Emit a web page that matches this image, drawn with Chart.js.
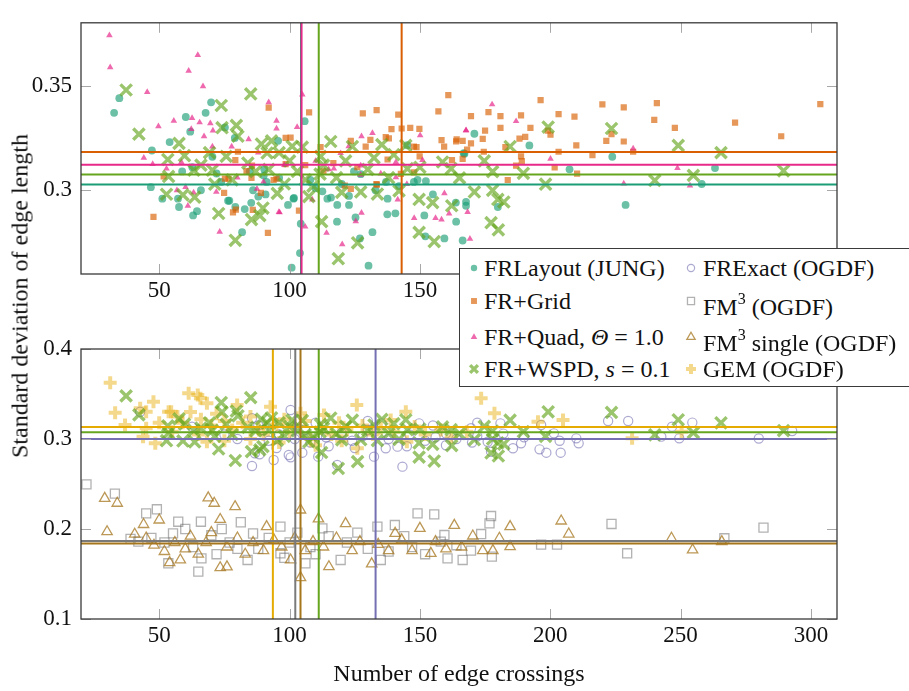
<!DOCTYPE html>
<html>
<head>
<meta charset="utf-8">
<script src="https://cdn.jsdelivr.net/npm/chart.js@4"></script>
<style>
  body { margin: 0; width: 909px; height: 691px; position: relative; overflow: hidden; background: #fff;
         font-family: 'Liberation Serif', 'Times New Roman', Times, 'DejaVu Serif', serif; color: #111; }
  canvas { position: absolute; left: 0; }
  #yTitle { position: absolute; left: 20px; top: 296px; font-size: 24px; white-space: nowrap;
            transform: translate(-50%, -50%) rotate(-90deg); }
  #legend { position: absolute; left: 459px; top: 248px; width: 470px; height: 137px;
            background: #fff; border: 1.3px solid #3a3a3a; }
  .item { position: absolute; height: 30px; line-height: 30px; font-size: 24px; white-space: nowrap; }
  .item sup { font-size: 16px; position: relative; top: -2px; }
  .icon { position: absolute; }
</style>
</head>
<body>
<canvas id="topChart" width="909" height="320" style="top:0"></canvas>
<canvas id="bottomChart" width="909" height="371" style="top:320px"></canvas>
<div id="yTitle">Standard deviation of edge length</div>
<div id="legend"></div>
<script>
// axes
const xRange = [20, 310];
const xTicks = [50, 100, 150, 200, 250, 300];
const topYRange = [0.26, 0.38];
const topYTicks = [0.3, 0.35];
const bottomYRange = [0.1, 0.4];
const bottomYTicks = [0.1, 0.2, 0.3, 0.4];

const seriesNames = ['FRLayout (JUNG)', 'FR+Grid', 'FR+Quad, Θ = 1.0', 'FR+WSPD, s = 0.1',
                     'FRExact (OGDF)', 'FM3 (OGDF)', 'FM3 single (OGDF)', 'GEM (OGDF)'];
const legendLabels = ['FRLayout (JUNG)', 'FR+Grid', 'FR+Quad, <i>Θ</i> = 1.0', 'FR+WSPD, <i>s</i> = 0.1',
                      'FRExact (OGDF)', 'FM<sup>3</sup> (OGDF)', 'FM<sup>3</sup> single (OGDF)', 'GEM (OGDF)'];

// [crossings, std dev of edge length]
const frLayout = [[32.7,0.337],[34.7,0.344],[69.9,0.342],[67.8,0.337],[60.2,0.335],[61.9,0.328],[54,0.323],
  [47.2,0.319],[46.8,0.3015],[51.2,0.296],[57.2,0.296],[57.6,0.292],[58.8,0.309],[63,0.288],[64.5,0.290],
  [70.4,0.316],[72,0.308],[76.9,0.295],[81.8,0.280],[85.3,0.294],[79.2,0.292],[90.8,0.298],[90.1,0.307],
  [99.4,0.293],[101.5,0.296],[104.3,0.284],[105.8,0.333],[100.8,0.263],[104,0.270],[112.6,0.2995],
  [115.9,0.2965],[118.2,0.285],[118.3,0.293],[122.8,0.293],[125.3,0.287],[127,0.277],[130.3,0.264],
  [131.8,0.280],[137.5,0.2885],[140.6,0.289],[147.7,0.304],[151.7,0.288],[152.1,0.278],[159.4,0.277],
  [163.9,0.285],[101.7,0.2963],[114.5,0.296],[122.8,0.2973],[137.6,0.296],[137,0.304],[124.7,0.309],
  [127.3,0.3077],[145.2,0.3215],[166.8,0.3177],[167.7,0.2945],[170.9,0.327],[167.1,0.3174],[167.7,0.2926],
  [166.4,0.276],[179.9,0.292],[192,0.3214],[207.4,0.310],[223.8,0.316],[228.9,0.293],[263.2,0.3106],
  [258.1,0.303],[62.7,0.311],[79,0.325],[75.2,0.330],[90.3,0.310],[91.2,0.304],[76.4,0.295],[82.8,0.291],
  [95.6,0.3236],[84.7,0.309],[73.8,0.304],[149.1,0.305],[152.3,0.3044],[163.8,0.2941],[108,0.305],
  [110,0.301],[96,0.306],[86,0.300],[120,0.303],[133,0.300],[142,0.302],[155,0.298],[66,0.300],[88,0.297]];

const frGrid = [[47.8,0.2873],[91.7,0.2796],[92,0.3395],[107.5,0.3372],[128.1,0.3367],[133.4,0.3383],
  [141.7,0.3361],[139.1,0.3292],[143,0.3295],[146.3,0.3298],[149.8,0.3293],[157.1,0.3377],[160.9,0.3454],
  [163.9,0.3234],[98.5,0.325],[100.4,0.3252],[111.9,0.3206],[129.2,0.3209],[131,0.3241],[138.1,0.3248],
  [147.7,0.3209],[103.6,0.2903],[89,0.2988],[121.2,0.3022],[133.5,0.3027],[98.5,0.3125],[93.9,0.3049],
  [85.9,0.2906],[79.4,0.2907],[76.6,0.3055],[51.7,0.3066],[196.3,0.3431],[220,0.341],[228.2,0.3396],
  [240.9,0.3416],[239.9,0.3336],[169.6,0.3354],[176.3,0.3373],[180.9,0.3354],[188.8,0.3358],[203.2,0.3364],
  [209.3,0.3352],[180.9,0.3298],[175,0.3285],[174.1,0.3245],[169.6,0.3224],[192.4,0.3298],[199.1,0.3285],
  [200.1,0.3266],[190.4,0.3255],[188.2,0.3247],[182.8,0.3206],[174.5,0.3184],[168.1,0.3194],[188.8,0.3162],
  [189.1,0.3139],[186.9,0.3118],[183.7,0.3049],[201.7,0.3109],[203.2,0.3184],[210,0.3214],[216.2,0.3168],
  [210.3,0.308],[221.5,0.3236],[228.2,0.3233],[223.5,0.3268],[231.8,0.3184],[166.4,0.3236],[166.4,0.315],
  [247.8,0.3298],[270.9,0.3323],[288.6,0.3258],[303.6,0.3412],[123.5,0.3236],[136.9,0.3254],[158.3,0.3239],
  [159.3,0.3209],[164.1,0.3243],[148.7,0.3206],[149.9,0.3162],[162.3,0.3144],[147.8,0.3085],[142.7,0.3078],
  [133.3,0.3029],[123.5,0.3007],[137.6,0.3147],[79.2,0.3144],[80.2,0.3184],[85.6,0.3118],[83.5,0.3091],
  [75.2,0.3056],[85.4,0.3059],[95,0.3056],[74.9,0.2988],[78.3,0.2894],[116.8,0.313],[126,0.311],
  [106,0.312],[113,0.309]];

const frQuad = [[30.9,0.374],[31.2,0.3587],[64.8,0.3646],[61.3,0.3571],[66.8,0.3497],[45.4,0.3469],
  [92,0.342],[49.7,0.3305],[55.6,0.3332],[62.6,0.3345],[65.5,0.3324],[69.6,0.332],[67.2,0.3258],
  [62.3,0.3292],[70.6,0.3285],[95,0.3332],[95,0.3295],[44.1,0.3155],[47.5,0.3125],[70.4,0.3209],
  [84.3,0.3243],[77.8,0.3209],[71.9,0.2992],[60.1,0.3015],[63.2,0.2989],[56.8,0.300],[61,0.2926],
  [73.2,0.2801],[95.9,0.2896],[52.8,0.3103],[58.5,0.3135],[87.5,0.3007],[104.9,0.3457],[102.9,0.3302],
  [131.8,0.3273],[127.6,0.3258],[150.1,0.3262],[167.7,0.3285],[119.6,0.3177],[122.7,0.321],[117,0.3103],
  [127.3,0.3118],[140.8,0.3135],[151,0.3144],[140.8,0.3062],[127.3,0.3074],[108.7,0.2956],[141.5,0.2956],
  [96.2,0.2894],[106,0.2826],[114.2,0.2796],[120.2,0.2742],[125.4,0.2852],[127.6,0.2892],[147.8,0.2867],
  [156,0.2867],[158.3,0.286],[159.4,0.2985],[161.2,0.2889],[168.3,0.2896],[177.7,0.341],[186.9,0.333],
  [167.7,0.3287],[200.1,0.315],[231.8,0.3199],[228.2,0.3032],[169.2,0.2768],[248.8,0.3106],[253.6,0.3022],
  [88,0.318],[98,0.312],[110,0.314],[80,0.306],[90,0.304],[135,0.308],[145,0.303],[115,0.310]];

const frWspd = [[37.3,0.3479],[42.2,0.3268],[73.8,0.3405],[85.1,0.346],[74.1,0.3299],[79.6,0.331],
  [80.2,0.3258],[57.6,0.3224],[53.3,0.3147],[59.7,0.3165],[53.6,0.3066],[63.3,0.3096],[69.3,0.318],
  [75.7,0.3162],[70.4,0.3096],[71.3,0.3029],[52.8,0.2981],[59.1,0.2978],[63.6,0.2967],[72.8,0.2889],
  [79.2,0.2761],[85.4,0.286],[88.6,0.2879],[89.8,0.2915],[89.2,0.3221],[93.1,0.3236],[91.4,0.3178],
  [115.8,0.3233],[124.1,0.3209],[135.4,0.3218],[132.4,0.3155],[144.6,0.3214],[104.9,0.3206],[111.9,0.3162],
  [121.5,0.314],[158.7,0.3135],[162,0.3103],[165.2,0.3059],[145.2,0.3103],[95.3,0.2985],[107.4,0.297],
  [127.3,0.2992],[133.7,0.2982],[142,0.2997],[149.7,0.2956],[154.9,0.2941],[162.2,0.2926],[149.7,0.2799],
  [155.5,0.2755],[126.1,0.2749],[118.7,0.2673],[112.3,0.285],[111.7,0.3077],[174.7,0.314],[177.9,0.3089],
  [170.9,0.2992],[177.9,0.300],[179.9,0.2956],[182.2,0.2944],[177.3,0.2845],[180.1,0.2811],[184.6,0.3209],
  [189.7,0.3081],[198.2,0.3029],[199.2,0.3302],[223.5,0.3295],[240.1,0.3047],[249.1,0.3214],[254.9,0.3071],
  [265.5,0.318],[289.5,0.3093],[96,0.318],[100,0.314],[103,0.309],[106,0.305],[109,0.302],[113,0.312],
  [118,0.306],[98,0.303],[92,0.310],[84,0.313],[78,0.305],[66,0.312],[130,0.310],[138,0.306],[150,0.311],
  [140,0.317],[120,0.299],[101,0.321],[87,0.309]];

const frExact = [[42.7,0.3303],[62.6,0.3137],[85.6,0.323],[100.4,0.3322],[86.7,0.2841],[88.5,0.283],
  [93.9,0.2767],[85.6,0.270],[100.4,0.2796],[104.9,0.2848],[111,0.2804],[118.3,0.2711],[132.4,0.2804],
  [143.3,0.2693],[141.4,0.2915],[149.7,0.3174],[99.7,0.2822],[136.9,0.2897],[135.3,0.3174],[169.6,0.3119],
  [180.9,0.3174],[177.3,0.2859],[185.7,0.2897],[188.8,0.2952],[195.9,0.2885],[198.5,0.2848],[204,0.2848],
  [196.5,0.3156],[201.4,0.3063],[203.6,0.2981],[210,0.3007],[210.9,0.2952],[222.2,0.320],[229.9,0.320],
  [242.6,0.3026],[246.7,0.3137],[249.5,0.3007],[254.5,0.3182],[280,0.3005],[292.8,0.3089],
  [75,0.305],[80,0.300],[90,0.310],[92,0.298],[96,0.305],[102,0.300],[106,0.310],[108,0.296],[114,0.302],
  [120,0.307],[124,0.298],[128,0.303],[130,0.310],[138,0.300],[146,0.305],[152,0.298],[156,0.302],
  [160,0.306],[164,0.300],[172,0.303],[176,0.297],[182,0.306],[190,0.302],[95,0.290],[115,0.292],
  [125,0.290],[145,0.292],[160,0.293],[170,0.296],[88,0.315],[110,0.318],[130,0.320],[155,0.315],[172,0.318]];

const fm3 = [[22.1,0.2496],[33,0.2393],[45,0.2174],[49.1,0.2219],[55.3,0.1952],[57.3,0.2081],[66,0.2081],
  [81.3,0.2075],[65,0.1526],[53.5,0.1619],[39,0.189],[83.9,0.1656],[106.1,0.1619],[119.6,0.1656],
  [149.1,0.2174],[155.5,0.2163],[160.6,0.1674],[135,0.1656],[96.5,0.2026],[112.6,0.2007],[133.7,0.2026],
  [140.4,0.2044],[159.4,0.1933],[166.4,0.1656],[177.3,0.2144],[176.7,0.2063],[173.5,0.1944],[169.6,0.1759],
  [177.6,0.1693],[196.5,0.1826],[202.6,0.1826],[223.5,0.2056],[229.5,0.173],[266.8,0.1897],[281.8,0.2015],
  [96.5,0.173],[66.2,0.1674],[42,0.186],[47,0.190],[52,0.185],[60,0.200],[63,0.180],[70,0.193],[74,0.200],
  [77,0.185],[86,0.195],[88,0.178],[92,0.190],[100,0.185],[103,0.196],[108,0.180],[115,0.192],[122,0.185],
  [126,0.196],[130,0.178],[144,0.192],[147,0.180],[152,0.172],[158,0.186],[72,0.172],[80,0.178],[98,0.168],
  [110,0.172],[138,0.175],[164,0.182]];

const fm3Single = [[29.1,0.2341],[33.9,0.2286],[30,0.197],[40.6,0.1942],[44,0.205],[50,0.21],[68.8,0.2346],
  [71.1,0.2286],[79.1,0.2248],[73.4,0.2106],[104.2,0.2211],[111.1,0.2113],[104.2,0.146],[121.5,0.206],
  [150,0.2007],[163.2,0.204],[73.4,0.157],[76,0.158],[115.1,0.1581],[131.5,0.1613],[58.1,0.1656],
  [54,0.1626],[91.2,0.2026],[154.2,0.173],[140.5,0.1952],[100.4,0.1656],[170.3,0.1922],[174.1,0.1759],
  [180.5,0.1897],[184.6,0.2026],[184.6,0.1804],[204.2,0.2089],[207.1,0.1944],[246.5,0.1897],[254.6,0.1767],
  [265.8,0.1859],[45,0.190],[48,0.182],[52,0.175],[56,0.185],[60,0.178],[62,0.192],[65,0.172],[68,0.185],
  [70,0.196],[76,0.180],[80,0.190],[83,0.172],[86,0.185],[90,0.176],[94,0.188],[97,0.180],[102,0.190],
  [106,0.176],[109,0.186],[113,0.180],[118,0.190],[124,0.176],[127,0.186],[134,0.183],[138,0.176],
  [143,0.188],[147,0.176],[156,0.186],[160,0.178],[166,0.180],[178,0.176]];

const gem = [[31.2,0.3626],[33.1,0.3292],[36.9,0.3156],[42.7,0.3341],[47.8,0.3415],[43.8,0.3026],
  [48.5,0.2952],[53.6,0.3303],[61.3,0.3508],[65.8,0.3452],[68.3,0.297],[79.9,0.3378],[92.7,0.3359],
  [104.2,0.3285],[125.8,0.3378],[144.6,0.3303],[45,0.3303],[45,0.3119],[54.6,0.3303],[64.8,0.349],
  [68.3,0.3397],[138.8,0.3211],[113.2,0.3267],[126,0.2897],[173.5,0.3452],[178.6,0.3285],[195.3,0.3193],
  [204.9,0.3211],[231.4,0.3007],[250.4,0.3081],[57,0.325],[59,0.318],[62,0.330],[66,0.322],[70,0.315],
  [72,0.328],[75,0.320],[78,0.310],[82,0.318],[85,0.325],[88,0.312],[90,0.305],[95,0.316],[98,0.322],
  [100,0.308],[102,0.315],[106,0.320],[108,0.300],[112,0.312],[116,0.305],[119,0.318],[122,0.310],
  [128,0.315],[132,0.305],[135,0.312],[140,0.308],[148,0.314],[152,0.305],[158,0.310],[162,0.302],
  [50,0.318],[55,0.308],[65,0.305],[75,0.298],[85,0.300],[96,0.296],[110,0.293],[120,0.298],[145,0.297],
  [168,0.308]];

// mean crossings (vertical line) and mean std dev (horizontal line) per series
const meanCrossings = [104.4, 143, 104.6, 111.2, 133, 102.2, 104.2, 93.6];
const meanStdDev = [0.3028, 0.3183, 0.3122, 0.3075, 0.300, 0.1867, 0.184, 0.3133];

// marker looks, same order as seriesNames
const styles = [
  { rgb: '27,158,119', line: '#1b9e77', shape: 'circle', r: 3.9, fill: true, a: 0.65, bw: 0, lr: 3.2 },
  { rgb: '217,95,2', line: '#d95f02', shape: 'rect', r: 4.4, fill: true, a: 0.65, bw: 0, lr: 4.2 },
  { rgb: '231,41,138', line: '#e7298a', shape: 'triangle', r: 3.8, fill: true, a: 0.7, bw: 0, lr: 3.8 },
  { rgb: '102,166,30', line: '#66a61e', shape: 'crossRot', r: 8, fill: false, a: 0.65, bw: 3.4, lr: 5.5 },
  { rgb: '117,112,179', line: '#7570b3', shape: 'circle', r: 4.6, fill: false, a: 0.6, bw: 1.2, lr: 3.6 },
  { rgb: '102,102,102', line: '#7a7a7a', shape: 'rect', r: 6.4, fill: false, a: 0.5, bw: 1.3, lr: 5 },
  { rgb: '166,118,29', line: '#a6761d', shape: 'triangle', r: 6, fill: false, a: 0.75, bw: 1.3, lr: 4.8 },
  { rgb: '230,171,2', line: '#e6ab02', shape: 'cross', r: 6.5, fill: false, a: 0.45, bw: 4, lr: 5 }
];

const fontFamily = "'Liberation Serif', 'Times New Roman', Times, 'DejaVu Serif', serif";
Chart.defaults.font.family = fontFamily;
Chart.defaults.color = '#111';

function scatterSet(i, points, order) {
  const s = styles[i];
  const c = 'rgba(' + s.rgb + ',' + s.a + ')';
  return {
    label: seriesNames[i],
    data: points.map(p => ({ x: p[0], y: p[1] })),
    showLine: false,
    pointStyle: s.shape,
    pointRadius: s.r,
    pointHoverRadius: s.r,
    pointBackgroundColor: s.fill ? c : 'rgba(0,0,0,0)',
    pointBorderColor: c,
    pointBorderWidth: s.bw,
    order: order
  };
}

function meanLines(i, yRange) {
  const base = { showLine: true, pointRadius: 0, borderColor: styles[i].line, borderWidth: 2, fill: false, order: 0 };
  return [
    Object.assign({ data: [{ x: meanCrossings[i], y: yRange[0] }, { x: meanCrossings[i], y: yRange[1] }] }, base),
    Object.assign({ data: [{ x: xRange[0], y: meanStdDev[i] }, { x: xRange[1], y: meanStdDev[i] }] }, base)
  ];
}

// frame round the plot and the little inward tick marks
const frameTicks = {
  id: 'frameTicks',
  afterDraw(chart) {
    const { ctx, chartArea: a, scales: { x, y } } = chart;
    ctx.save();
    ctx.strokeStyle = '#a8a8a8';
    ctx.lineWidth = 1;
    ctx.beginPath();
    x.ticks.forEach(t => {
      const px = Math.round(x.getPixelForValue(t.value)) + 0.5;
      ctx.moveTo(px, a.bottom); ctx.lineTo(px, a.bottom - 10);
      ctx.moveTo(px, a.top); ctx.lineTo(px, a.top + 10);
    });
    y.ticks.forEach(t => {
      const py = Math.round(y.getPixelForValue(t.value)) + 0.5;
      ctx.moveTo(a.left, py); ctx.lineTo(a.left + 10, py);
      ctx.moveTo(a.right, py); ctx.lineTo(a.right - 10, py);
    });
    ctx.stroke();
    ctx.strokeStyle = '#3a3a3a';
    ctx.lineWidth = 1.3;
    ctx.strokeRect(a.left, a.top, a.right - a.left, a.bottom - a.top);
    ctx.restore();
  }
};

function makeOptions(yRange, yTicks, padTop, xHeight, withTitle) {
  return {
    responsive: false,
    animation: false,
    events: [],
    layout: { padding: { top: padTop, right: 72, bottom: 0, left: 0 } },
    plugins: { legend: { display: false }, tooltip: { enabled: false } },
    scales: {
      x: {
        type: 'linear', min: xRange[0], max: xRange[1],
        afterBuildTicks: s => { s.ticks = xTicks.map(v => ({ value: v })); },
        afterFit: s => { s.height = xHeight; },
        grid: { display: false, drawTicks: false },
        border: { display: false },
        ticks: { font: { size: 23 }, padding: 3, maxRotation: 0, autoSkip: false, callback: v => String(v) },
        title: { display: withTitle, text: 'Number of edge crossings', font: { size: 24 }, padding: { top: 0, bottom: 2 } }
      },
      y: {
        type: 'linear', min: yRange[0], max: yRange[1],
        afterBuildTicks: s => { s.ticks = yTicks.map(v => ({ value: v })); },
        afterFit: s => { s.width = 81; },
        grid: { display: false, drawTicks: false },
        border: { display: false },
        ticks: { font: { size: 23 }, padding: 9, autoSkip: false, callback: v => String(v) }
      }
    }
  };
}

new Chart(document.getElementById('topChart'), {
  type: 'scatter',
  data: {
    datasets: [
      ...meanLines(2, topYRange), ...meanLines(3, topYRange), ...meanLines(1, topYRange), ...meanLines(0, topYRange),
      scatterSet(0, frLayout, 9), scatterSet(1, frGrid, 8), scatterSet(2, frQuad, 7), scatterSet(3, frWspd, 6)
    ]
  },
  options: makeOptions(topYRange, topYTicks, 3, 46, false),
  plugins: [frameTicks]
});

new Chart(document.getElementById('bottomChart'), {
  type: 'scatter',
  data: {
    datasets: [
      ...meanLines(4, bottomYRange), ...meanLines(5, bottomYRange), ...meanLines(6, bottomYRange),
      ...meanLines(3, bottomYRange), ...meanLines(7, bottomYRange),
      scatterSet(4, frExact, 9), scatterSet(5, fm3, 8), scatterSet(6, fm3Single, 7),
      scatterSet(7, gem, 6), scatterSet(3, frWspd, 5)
    ]
  },
  options: makeOptions(bottomYRange, bottomYTicks, 29, 72, true),
  plugins: [frameTicks]
});

// shared legend, two columns
const legendRowCenters = [19, 52, 88, 120];
const legendCols = [{ icon: 14, text: 24 }, { icon: 231, text: 243 }];
const legendEl = document.getElementById('legend');
seriesNames.forEach((name, i) => {
  const col = legendCols[Math.floor(i / 4)];
  const cy = legendRowCenters[i % 4];
  const s = styles[i];
  const cv = document.createElement('canvas');
  cv.width = 20; cv.height = 20;
  cv.className = 'icon';
  cv.style.left = (col.icon - 10) + 'px';
  cv.style.top = (cy - 10) + 'px';
  const ctx = cv.getContext('2d');
  const c = 'rgba(' + s.rgb + ',' + s.a + ')';
  ctx.fillStyle = s.fill ? c : 'rgba(0,0,0,0)';
  ctx.strokeStyle = c;
  ctx.lineWidth = s.bw;
  Chart.helpers.drawPoint(ctx, { pointStyle: s.shape, radius: s.lr, rotation: 0, borderWidth: s.fill ? 0 : Math.min(s.bw, 3) }, 10, 10);
  legendEl.appendChild(cv);
  const t = document.createElement('div');
  t.className = 'item';
  t.style.left = col.text + 'px';
  t.style.top = (cy - 15) + 'px';
  t.innerHTML = legendLabels[i];
  legendEl.appendChild(t);
});
</script>
</body>
</html>
